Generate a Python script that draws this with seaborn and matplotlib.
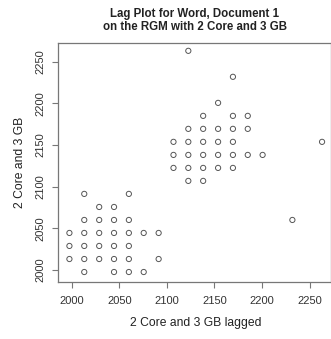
import matplotlib
matplotlib.use("Agg")
import matplotlib.pyplot as plt
import seaborn as sns
import pandas as pd

# Lag plot data: (lagged value, current value)
lagged = [
    2013.1, 2060.0,
    2028.8, 2044.4,
    2013.1, 2028.8, 2044.4, 2060.0,
    1997.5, 2013.1, 2028.8, 2044.4, 2060.0, 2075.6, 2091.3,
    1997.5, 2013.1, 2028.8, 2044.4, 2060.0,
    1997.5, 2013.1, 2028.8, 2044.4, 2060.0, 2091.3,
    2013.1, 2044.4, 2060.0, 2075.6,
    2138.1, 2169.4, 2185.0,
    2122.5, 2138.1, 2153.8, 2169.4, 2185.0,
    2106.9, 2122.5, 2138.1, 2153.8, 2169.4, 2263.1,
    2106.9, 2122.5, 2138.1, 2153.8, 2169.4, 2185.0, 2200.6,
    2106.9, 2122.5, 2138.1, 2153.8, 2169.4,
    2122.5, 2138.1,
    2122.5, 2169.4, 2153.8, 2231.9,
]
current = [
    2091.3, 2091.3,
    2075.6, 2075.6,
    2060.0, 2060.0, 2060.0, 2060.0,
    2044.4, 2044.4, 2044.4, 2044.4, 2044.4, 2044.4, 2044.4,
    2028.8, 2028.8, 2028.8, 2028.8, 2028.8,
    2013.1, 2013.1, 2013.1, 2013.1, 2013.1, 2013.1,
    1997.5, 1997.5, 1997.5, 1997.5,
    2185.0, 2185.0, 2185.0,
    2169.4, 2169.4, 2169.4, 2169.4, 2169.4,
    2153.8, 2153.8, 2153.8, 2153.8, 2153.8, 2153.8,
    2138.1, 2138.1, 2138.1, 2138.1, 2138.1, 2138.1, 2138.1,
    2122.5, 2122.5, 2122.5, 2122.5, 2122.5,
    2106.9, 2106.9,
    2263.1, 2231.9, 2200.6, 2060.0,
]
tick_values = [2000, 2050, 2100, 2150, 2200, 2250]
title = "Lag Plot for Word, Document 1\non the RGM with 2 Core and 3 GB"
xlabel = "2 Core and 3 GB lagged"
ylabel = "2 Core and 3 GB"

df = pd.DataFrame({"lagged": lagged, "current": current})

sns.set_style("white")
plt.rcParams["font.family"] = ["Liberation Sans", "DejaVu Sans"]

W, H = 331, 339
fig = plt.figure(figsize=(W / 100, H / 100), dpi=100)
ax = fig.add_axes([58 / W, (H - 282) / H, (331 - 58) / W, (282 - 43) / H])

sns.scatterplot(data=df, x="lagged", y="current", ax=ax, marker="o",
                s=14, facecolors="none", edgecolor="#555555", linewidth=0.7,
                legend=False)

ax.set_xlim(1985.5, 2272.5)
ax.set_ylim(1985.5, 2272.5)
ax.set_xticks(tick_values)
ax.set_yticks(tick_values)
ax.set_xticklabels([str(v) for v in tick_values], fontsize=8, color="#333333")
ax.set_yticklabels([str(v) for v in tick_values], fontsize=8, color="#333333",
                   rotation=90, va="center")
ax.tick_params(axis="both", direction="out", length=4, width=0.8,
               color="#777777", bottom=True, left=True)
ax.tick_params(axis="x", pad=6)
ax.tick_params(axis="y", pad=5)

for sp in ax.spines.values():
    sp.set_color("#777777")
    sp.set_linewidth(0.9)

ax.set_xlabel(xlabel, fontsize=8.7, color="#222222")
ax.set_ylabel(ylabel, fontsize=8.7, color="#222222")
ax.xaxis.set_label_coords((196 - 58) / 273, -(323 - 282) / 239)
ax.xaxis.label.set_va("center")
ax.yaxis.set_label_coords(-(58 - 20) / 273, 0.5)
ax.yaxis.label.set_va("center")

fig.text(195 / W, 1 - 20.5 / H, title, ha="center", va="center",
         fontsize=8.3, fontweight="bold", color="#222222", linespacing=1.15)

fig.savefig("out.png", dpi=100)
